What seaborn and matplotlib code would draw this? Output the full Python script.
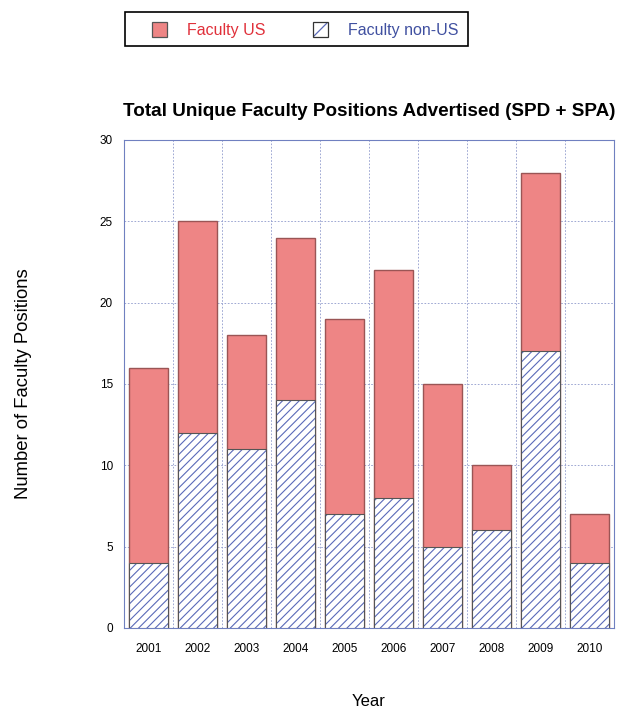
import matplotlib
matplotlib.use("Agg")
import matplotlib.pyplot as plt
import seaborn as sns
import pandas as pd
from matplotlib.patches import Rectangle
from matplotlib.lines import Line2D

years = ["2001", "2002", "2003", "2004", "2005", "2006", "2007", "2008", "2009", "2010"]
faculty_total = [16, 25, 18, 24, 19, 22, 15, 10, 28, 7]
faculty_non_us = [4, 12, 11, 14, 7, 8, 5, 6, 17, 4]
y_ticks = [0, 5, 10, 15, 20, 25, 30]

df = pd.DataFrame({"Year": years, "Total": faculty_total, "NonUS": faculty_non_us})

sns.set_style("white")
plt.rcParams["font.family"] = ["Liberation Sans", "DejaVu Sans"]
plt.rcParams["hatch.linewidth"] = 0.8
plt.rcParams["text.color"] = "black"
plt.rcParams["axes.labelcolor"] = "black"
plt.rcParams["xtick.color"] = "black"
plt.rcParams["ytick.color"] = "black"

W, H = 620, 711
fig = plt.figure(figsize=(W / 100, H / 100), dpi=100)
ax = fig.add_axes([124 / W, 1 - 628 / H, 490 / W, 488 / H])

red = "#ee8585"
hatch_blue = "#5a6ab8"

# US part: full-height red bars (total), non-US stacked at the bottom
sns.barplot(data=df, x="Year", y="Total", color=red, saturation=1, width=0.8,
            edgecolor="#9a5555", linewidth=1.0, ax=ax, zorder=2)
n_total = len(ax.patches)
sns.barplot(data=df, x="Year", y="NonUS", color="white", saturation=1, width=0.8,
            edgecolor=hatch_blue, linewidth=0, ax=ax, zorder=3)
for p in ax.patches[n_total:]:
    p.set_hatch("////")
    p.set_facecolor("white")
# outlines of the non-US segments
sns.barplot(data=df, x="Year", y="NonUS", fill=False, width=0.8,
            edgecolor="#555555", linewidth=0.8, ax=ax, zorder=4)

ax.set_xlim(-0.5, len(years) - 0.5)
ax.set_ylim(0, 30)
ax.set_yticks(y_ticks)
ax.set_yticklabels([str(t) for t in y_ticks], fontsize=8.5)
ax.tick_params(axis="x", labelsize=8.5, length=0, pad=11)
ax.tick_params(axis="y", length=0, pad=8)

# grid: horizontal at ticks, vertical between categories
for t in y_ticks[1:-1]:
    ax.axhline(t, color="#8f9acc", lw=0.6, ls=(0, (2, 2)), zorder=0)
for i in range(1, len(years)):
    ax.axvline(i - 0.5, color="#8f9acc", lw=0.6, ls=(0, (2, 2)), zorder=0)
for s in ax.spines.values():
    s.set_color("#7080c0")
    s.set_linewidth(0.8)

ax.set_xlabel("Year", fontsize=12, labelpad=28)
ax.set_ylabel("Number of Faculty Positions", fontsize=13.3, labelpad=49)
ax.set_title("Total Unique Faculty Positions Advertised (SPD + SPA)",
             fontsize=13.6, fontweight="bold", pad=17, x=0.5)

# legend box drawn in figure pixels
def fx(px):
    return px / W

def fy(py):
    return 1 - py / H

fig.patches.append(Rectangle((fx(125), fy(46)), fx(468) - fx(125), fy(12) - fy(46),
                             transform=fig.transFigure, facecolor="white",
                             edgecolor="black", lw=1.2, zorder=5))
fig.patches.append(Rectangle((fx(152), fy(37)), fx(167) - fx(152), fy(22) - fy(37),
                             transform=fig.transFigure, facecolor=red,
                             edgecolor="#555555", lw=0.9, zorder=6))
fig.lines.append(Line2D([fx(314), fx(327)], [fy(36), fy(23)], transform=fig.transFigure,
                        color=hatch_blue, lw=0.9, zorder=6))
fig.patches.append(Rectangle((fx(313), fy(37)), fx(328) - fx(313), fy(22) - fy(37),
                             transform=fig.transFigure, fill=False,
                             edgecolor="#333333", lw=0.9, zorder=7))
fig.text(fx(187), fy(30), "Faculty US", color="#e0303a", fontsize=11.5,
         va="center", ha="left", zorder=8)
fig.text(fx(348), fy(30), "Faculty non-US", color="#4050a0", fontsize=11.5,
         va="center", ha="left", zorder=8)

fig.savefig("out.png", dpi=100)
